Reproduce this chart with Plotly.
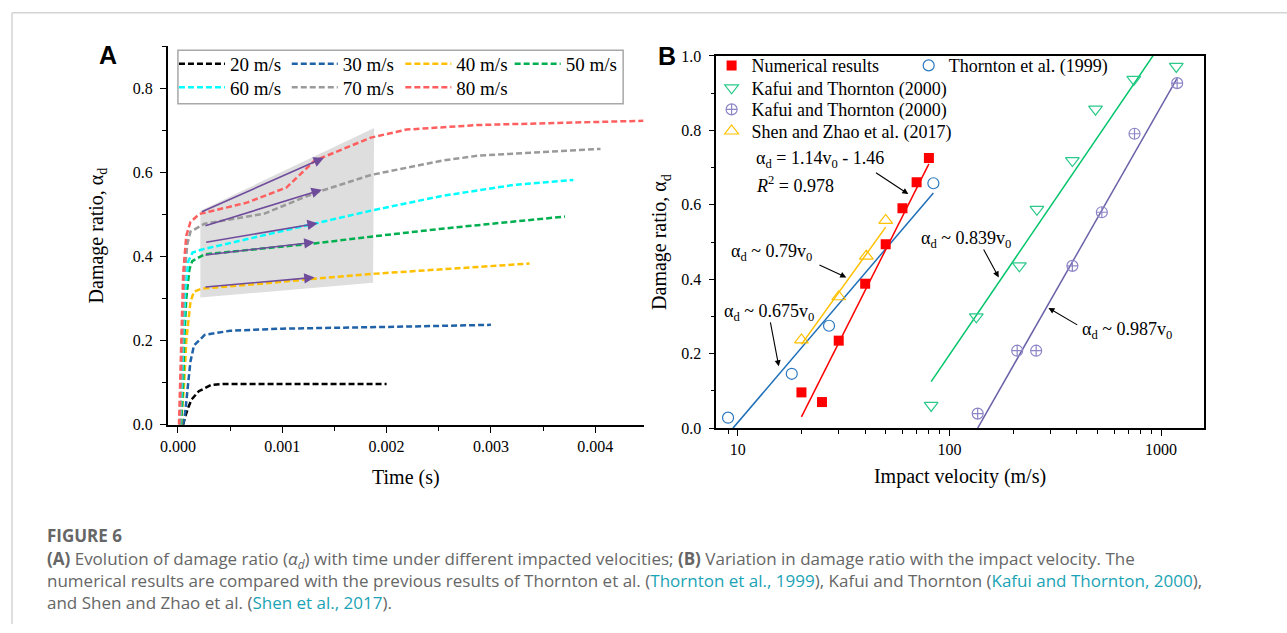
import plotly.graph_objects as go

W, H = 1287, 633
SERIF = "Liberation Serif"

# ---------------- Panel A data: damage ratio vs time ----------------
t20 = [0.00005, 0.00007, 0.0001, 0.00013, 0.0002, 0.00032, 0.00043, 0.001, 0.0015, 0.002]
d20 = [0.0, 0.02, 0.042, 0.06, 0.08, 0.095, 0.097, 0.097, 0.097, 0.097]
t30 = [0.00005, 0.00007, 0.00009, 0.000103, 0.00012, 0.000154, 0.000256, 0.0005, 0.001, 0.002, 0.003]
d30 = [0.0, 0.03, 0.08, 0.112, 0.151, 0.189, 0.214, 0.224, 0.229, 0.233, 0.238]
t40 = [0.00003, 0.00006, 0.00008, 0.000103, 0.00012, 0.000154, 0.000222, 0.0008, 0.00131, 0.0019, 0.00253, 0.00337]
d40 = [0.0, 0.1, 0.2, 0.251, 0.293, 0.317, 0.324, 0.336, 0.348, 0.36, 0.371, 0.384]
t50 = [0.00003, 0.00005, 0.00006, 0.00008, 0.00011, 0.000137, 0.000256, 0.0008, 0.00131, 0.00185, 0.00253, 0.00371]
d50 = [0.0, 0.1, 0.2, 0.3, 0.37, 0.39, 0.406, 0.42, 0.432, 0.448, 0.467, 0.496]
t60 = [0.00002, 0.00004, 0.00005, 0.00007, 0.0001, 0.00014, 0.000222, 0.0008, 0.00131, 0.00185, 0.00253, 0.00321, 0.00379]
d60 = [0.0, 0.1, 0.2, 0.32, 0.39, 0.41, 0.417, 0.45, 0.479, 0.51, 0.545, 0.571, 0.583]
t70 = [0.00002, 0.00003, 0.00004, 0.00006, 0.00009, 0.00012, 0.000256, 0.00083, 0.00131, 0.00185, 0.00253, 0.00288, 0.00405]
d70 = [0.0, 0.1, 0.22, 0.35, 0.43, 0.46, 0.479, 0.503, 0.552, 0.595, 0.629, 0.641, 0.657]
t80 = [0.00001, 0.00002, 0.00003, 0.00005, 0.00008, 0.00012, 0.000205, 0.00066, 0.00104, 0.00131, 0.00185, 0.00219, 0.00288, 0.00356, 0.00446]
d80 = [0.0, 0.1, 0.22, 0.36, 0.45, 0.483, 0.502, 0.529, 0.565, 0.629, 0.684, 0.703, 0.714, 0.718, 0.724]

velocity_names = ["20 m/s", "30 m/s", "40 m/s", "50 m/s", "60 m/s", "70 m/s", "80 m/s"]
velocity_colors = ["#000000", "#1f62a8", "#ffc000", "#00b050", "#00ffff", "#9a9a9a", "#ff5f5f"]

# shaded highlight region (time, damage)
shade_t = [0.000215, 0.00188, 0.00187, 0.000215]
shade_d = [0.51, 0.707, 0.338, 0.303]

# purple trend arrows: tail (t, d) -> head (t, d)
arrow_tail_t = [0.000215, 0.000249, 0.000256, 0.000249, 0.000249]
arrow_tail_d = [0.506, 0.473, 0.434, 0.404, 0.328]
arrow_head_t = [0.0014, 0.00138, 0.00134, 0.00131, 0.00131]
arrow_head_d = [0.636, 0.56, 0.48, 0.435, 0.351]

# ---------------- Panel B data: damage ratio vs impact velocity ----------------
num_v = [20, 25, 30, 40, 50, 60, 70, 80]
num_d = [0.096, 0.070, 0.235, 0.388, 0.494, 0.591, 0.661, 0.726]
thor_v = [9, 18, 27, 84]
thor_d = [0.028, 0.146, 0.275, 0.658]
kaf1_v = [82, 134, 214, 259, 381, 490, 743, 1180]
kaf1_d = [0.061, 0.299, 0.436, 0.588, 0.719, 0.857, 0.937, 0.972]
kaf2_v = [136, 209, 257, 381, 525, 749, 1191]
kaf2_d = [0.039, 0.208, 0.208, 0.436, 0.58, 0.791, 0.927]
shen_v = [20, 30, 40.5, 50]
shen_d = [0.237, 0.353, 0.462, 0.558]

# fitted lines (end points)
fit_num_v, fit_num_d = [20, 80], [0.03, 0.71]
fit_thor_v, fit_thor_d = [9.5, 84], [0.0, 0.632]
fit_shen_v, fit_shen_d = [20, 50], [0.225, 0.54]
fit_kaf1_v, fit_kaf1_d = [82, 940], [0.125, 1.01]
fit_kaf2_v, fit_kaf2_d = [136, 1190], [0.0, 0.94]

fig = go.Figure()

# ---- Panel A traces
fig.add_trace(go.Scatter(x=shade_t, y=shade_d, fill="toself", fillcolor="#dedede",
                         mode="lines", line=dict(width=0), showlegend=False,
                         hoverinfo="skip", xaxis="x", yaxis="y"))

series_a = [(t20, d20), (t30, d30), (t40, d40), (t50, d50), (t60, d60), (t70, d70), (t80, d80)]
legend_ids_a = ["legend", "legend2", "legend3", "legend4", "legend5", "legend6", "legend7"]
for (tt, dd), name, col, lg in zip(series_a, velocity_names, velocity_colors, legend_ids_a):
    fig.add_trace(go.Scatter(x=tt, y=dd, mode="lines", name=name,
                             line=dict(color=col, width=2.5, dash="6px,3px"),
                             xaxis="x", yaxis="y", legend=lg))

# ---- Panel B traces
def fit_line(v, d, col):
    fig.add_trace(go.Scatter(x=v, y=d, mode="lines", line=dict(color=col, width=1.5),
                             showlegend=False, xaxis="x2", yaxis="y2", hoverinfo="skip"))

fit_line(fit_thor_v, fit_thor_d, "#1f6fb8")
fit_line(fit_shen_v, fit_shen_d, "#ffc000")
fit_line(fit_num_v, fit_num_d, "#ff0000")
fit_line(fit_kaf1_v, fit_kaf1_d, "#00c46a")
fit_line(fit_kaf2_v, fit_kaf2_d, "#6a62a8")

fig.add_trace(go.Scatter(x=num_v, y=num_d, mode="markers", name="Numerical results",
                         marker=dict(symbol="square", size=10, color="#ff0000"),
                         xaxis="x2", yaxis="y2", legend="legend8"))
fig.add_trace(go.Scatter(x=thor_v, y=thor_d, mode="markers", name="Thornton et al. (1999)",
                         marker=dict(symbol="circle-open", size=11, color="#2a78c0", line=dict(width=1.2)),
                         xaxis="x2", yaxis="y2", legend="legend9"))
fig.add_trace(go.Scatter(x=kaf1_v, y=kaf1_d, mode="markers", name="Kafui and Thornton (2000)",
                         marker=dict(symbol="triangle-down-open", size=12, color="#2bc98a", line=dict(width=1.2)),
                         xaxis="x2", yaxis="y2", legend="legend10"))
fig.add_trace(go.Scatter(x=kaf2_v, y=kaf2_d, mode="markers", name="Kafui and Thornton (2000)",
                         marker=dict(symbol="circle-cross-open", size=11, color="#8c86c6", line=dict(width=1.2)),
                         xaxis="x2", yaxis="y2", legend="legend11"))
fig.add_trace(go.Scatter(x=shen_v, y=shen_d, mode="markers", name="Shen and Zhao et al. (2017)",
                         marker=dict(symbol="triangle-up-open", size=12, color="#ffc000", line=dict(width=1.2)),
                         xaxis="x2", yaxis="y2", legend="legend12"))

# ---------------- layout ----------------
def px(x):
    return x / W

def py(y):
    return 1 - y / H

tickfont = dict(family=SERIF, size=16, color="black")
titlefont = dict(family=SERIF, size=20, color="black")
common = dict(ticks="outside", ticklen=6, tickwidth=1.2, tickcolor="black",
              showline=True, linecolor="black", linewidth=1.5,
              showgrid=False, zeroline=False, tickfont=tickfont)
minor_common = dict(ticks="outside", ticklen=4, tickcolor="black", tickwidth=1.2)

layout = dict(
    width=W, height=H, margin=dict(l=0, r=0, t=0, b=0),
    paper_bgcolor="white", plot_bgcolor="rgba(0,0,0,0)",
    xaxis=dict(domain=[px(160.7), px(640)], range=[-0.0000981, 0.004467], anchor="y",
               tickvals=[0, 0.001, 0.002, 0.003, 0.004],
               ticktext=["0.000", "0.001", "0.002", "0.003", "0.004"],
               minor=dict(dtick=0.0005, tick0=0, **minor_common),
               title=dict(text="Time (s)", font=titlefont, standoff=16), **common),
    yaxis=dict(domain=[py(428.3), py(39.3)], range=[0, 0.9015], anchor="x",
               tickvals=[0, 0.2, 0.4, 0.6, 0.8], ticktext=["0.0", "0.2", "0.4", "0.6", "0.8"],
               minor=dict(dtick=0.1, tick0=0, **minor_common), ticklabelstandoff=4,
               title=dict(text="Damage ratio, α<sub>d</sub>", font=titlefont, standoff=24), **common),
    xaxis2=dict(domain=[px(712.7), px(1203.3)], type="log", range=[0.8986, 3.2019], anchor="y2",
                tickvals=[10, 100, 1000], ticktext=["10", "100", "1000"], mirror=True,
                minor=dict(tickvals=[9, 20, 30, 40, 50, 60, 70, 80, 90, 200, 300, 400, 500, 600, 700, 800, 900],
                           **minor_common),
                title=dict(text="Impact velocity (m/s)", font=titlefont, standoff=12), **common),
    yaxis2=dict(domain=[py(431.7), py(49.3)], range=[0, 1.0], anchor="x2", mirror=True,
                tickvals=[0, 0.2, 0.4, 0.6, 0.8, 1.0], ticktext=["0.0", "0.2", "0.4", "0.6", "0.8", "1.0"],
                minor=dict(dtick=0.1, tick0=0, **minor_common), ticklabelstandoff=4,
                title=dict(text="Damage ratio, α<sub>d</sub>", font=titlefont, standoff=9), **common),
)

# legends
leg_a_pos = [(167, 57.5), (280.5, 57.5), (394.8, 57.5), (504.8, 57.5),
             (167, 81.5), (280.5, 81.5), (394.8, 81.5)]
for lg, (lx, ly) in zip(legend_ids_a, leg_a_pos):
    layout[lg] = dict(x=px(lx), y=py(ly), xanchor="left", yanchor="middle", orientation="h",
                      bgcolor="rgba(0,0,0,0)", borderwidth=0, itemwidth=46,
                      font=dict(family=SERIF, size=19, color="black"))
leg_b = {"legend8": (708, 59.3), "legend9": (906.3, 59.3), "legend10": (708, 82.3),
         "legend11": (708, 104.5), "legend12": (708, 126.7)}
for lg, (lx, ly) in leg_b.items():
    layout[lg] = dict(x=px(lx), y=py(ly), xanchor="left", yanchor="middle", orientation="h",
                      bgcolor="rgba(0,0,0,0)", borderwidth=0,
                      font=dict(family=SERIF, size=18, color="black"))

fig.update_layout(**layout)

shapes = [
    # legend frame of panel A
    dict(type="rect", xref="paper", yref="paper", x0=px(171), x1=px(619), y0=py(98.3), y1=py(43.3),
         line=dict(color="#a8a8a8", width=1.5), layer="above"),
    # page border lines
    dict(type="line", xref="paper", yref="paper", x0=px(4), x1=1, y0=py(5), y1=py(5),
         line=dict(color="#d4d4d4", width=1.5)),
    dict(type="line", xref="paper", yref="paper", x0=px(4), x1=px(4), y0=0, y1=py(5),
         line=dict(color="#d4d4d4", width=1.5)),
]
fig.update_layout(shapes=shapes)

ann = []
# trend arrows in A
for tx, ty, hx, hy in zip(arrow_tail_t, arrow_tail_d, arrow_head_t, arrow_head_d):
    ann.append(dict(x=hx, y=hy, ax=tx, ay=ty, xref="x", yref="y", axref="x", ayref="y",
                    text="", showarrow=True, arrowhead=2, arrowsize=1.3, arrowwidth=1.6,
                    arrowcolor="#6f4c9b"))

# panel labels
ann.append(dict(x=px(100.8), y=py(48), xref="paper", yref="paper", text="<b>A</b>",
                xanchor="center", yanchor="middle", showarrow=False,
                font=dict(family="Liberation Sans", size=25, color="black")))
ann.append(dict(x=px(663), y=py(49), xref="paper", yref="paper", text="<b>B</b>",
                xanchor="center", yanchor="middle", showarrow=False,
                font=dict(family="Liberation Sans", size=25, color="black")))

# panel B text labels (x in log10 units)
bfont = dict(family=SERIF, size=18, color="black")
b_texts = [
    ("α<sub>d</sub> = 1.14v<sub>0</sub> - 1.46", 1.077, 0.721),
    ("<i>R</i><sup>2</sup> = 0.978", 1.077, 0.654),
    ("α<sub>d</sub> ~ 0.79v<sub>0</sub>", 0.960, 0.473),
    ("α<sub>d</sub> ~ 0.675v<sub>0</sub>", 0.926, 0.310),
    ("α<sub>d</sub> ~ 0.839v<sub>0</sub>", 1.857, 0.506),
    ("α<sub>d</sub> ~ 0.987v<sub>0</sub>", 2.618, 0.2615),
]
for txt, lx, ly in b_texts:
    ann.append(dict(x=lx, y=ly, xref="x2", yref="y2", text=txt, showarrow=False,
                    xanchor="left", yanchor="middle", font=bfont))
b_arrows = [  # tail (log10 v, d) -> head
    (1.646, 0.689, 1.806, 0.629),
    (1.379, 0.440, 1.513, 0.405),
    (1.153, 0.288, 1.194, 0.166),
    (2.158, 0.484, 2.233, 0.405),
    (2.611, 0.275, 2.468, 0.323),
]
for tx, ty, hx, hy in b_arrows:
    ann.append(dict(x=hx, y=hy, ax=tx, ay=ty, xref="x2", yref="y2", axref="x2", ayref="y2",
                    text="", showarrow=True, arrowhead=2, arrowsize=1.1, arrowwidth=1.1,
                    arrowcolor="black"))

# caption
LINK = "#1aa3b5"
capfont = dict(family="Open Sans", size=17, color="#666666")
cap_title = "<b>FIGURE 6</b>"
cap_body = ("<b>(A)</b> Evolution of damage ratio (<i>α<sub>d</sub></i>) with time under different impacted "
            "velocities; <b>(B)</b> Variation in damage ratio with the impact velocity. The<br>"
            "numerical results are compared with the previous results of Thornton et al. "
            f"(<span style='color:{LINK}'>Thornton et al., 1999</span>), Kafui and Thornton "
            f"(<span style='color:{LINK}'>Kafui and Thornton, 2000</span>),<br>"
            f"and Shen and Zhao et al. (<span style='color:{LINK}'>Shen et al., 2017</span>).")
ann.append(dict(x=px(37), y=py(542), xref="paper", yref="paper", text=cap_title, showarrow=False,
                xanchor="left", yanchor="middle", font=capfont))
ann.append(dict(x=px(37), y=py(588), xref="paper", yref="paper", text=cap_body, showarrow=False,
                xanchor="left", yanchor="middle", align="left", font=capfont))

fig.update_layout(annotations=ann)
fig.write_html("out.html")
